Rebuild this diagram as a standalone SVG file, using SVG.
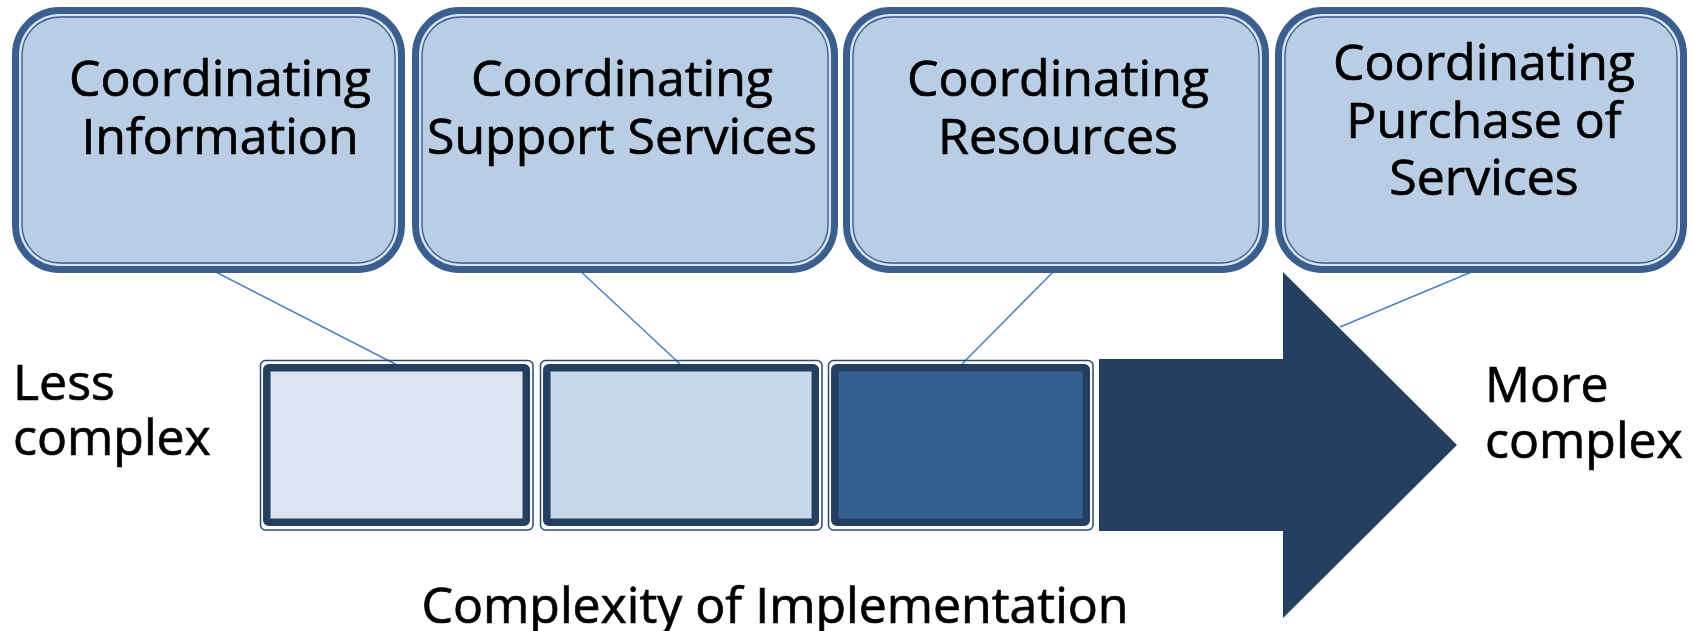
<svg xmlns="http://www.w3.org/2000/svg" width="1694" height="631" viewBox="0 0 1694 631">
<style>
.t{font-family:"Open Sans","Noto Sans","DejaVu Sans",sans-serif;font-size:50px;fill:#000;stroke:#000;stroke-width:0.7}
.c{text-anchor:middle}
.o{fill:#b9cde5;stroke:#3a5f8e;stroke-width:7}
.l{fill:none;stroke:#dfe8f3;stroke-width:1.6}
.d{fill:none;stroke:#3a5f8e;stroke-width:1.3}
.ft{fill:none;stroke:#2b4a70;stroke-width:1.5}
.th{stroke:#243f60;stroke-width:7.5}
.cn{stroke:#4f81bd;stroke-width:1.6;fill:none}
</style>
<rect width="1694" height="631" fill="#fff"/>
<g id="connectors">
<line class="cn" x1="208" y1="268" x2="397" y2="365"/>
<line class="cn" x1="577" y1="268" x2="680" y2="364"/>
<line class="cn" x1="1057" y1="268" x2="962" y2="364"/>
</g>
<g id="arrow">
<polygon points="1099,359 1283,359 1283,272 1457,445 1283,618 1283,531 1099,531" fill="#253f5f"/>
</g>
<g id="connector4">
<line class="cn" x1="1481" y1="268" x2="1340" y2="327"/>
</g>
<g id="level1">
<rect class="ft" x="260.5" y="360.5" width="272.5" height="169.5" rx="5"/>
<rect class="th" x="266.8" y="367.8" width="259.5" height="154.5" rx="2" fill="#dce6f2"/>
</g>
<g id="level2">
<rect class="ft" x="540.5" y="360.5" width="281.5" height="169.5" rx="5"/>
<rect class="th" x="546.8" y="367.8" width="268.5" height="154.5" rx="2" fill="#c8d8eb"/>
</g>
<g id="level3">
<rect class="ft" x="828.5" y="360.5" width="264.5" height="169.5" rx="5"/>
<rect class="th" x="834.8" y="367.8" width="251.5" height="154.5" rx="2" fill="#356090"/>
</g>
<g id="box1">
<rect class="o" x="15.5" y="10.5" width="386" height="259" rx="44"/>
<rect class="l" x="20" y="15" width="377" height="250" rx="40"/>
<rect class="d" x="22" y="17" width="373" height="246" rx="38"/>
<text class="t c" x="220" y="96">Coordinating</text>
<text class="t c" x="220" y="154">Information</text>
</g>
<g id="box2">
<rect class="o" x="415.5" y="10.5" width="419" height="259" rx="44"/>
<rect class="l" x="420" y="15" width="410" height="250" rx="40"/>
<rect class="d" x="422" y="17" width="406" height="246" rx="38"/>
<text class="t c" x="622" y="96">Coordinating</text>
<text class="t c" x="622" y="154">Support Services</text>
</g>
<g id="box3">
<rect class="o" x="846.5" y="10.5" width="419" height="259" rx="44"/>
<rect class="l" x="851" y="15" width="410" height="250" rx="40"/>
<rect class="d" x="853" y="17" width="406" height="246" rx="38"/>
<text class="t c" x="1058" y="96">Coordinating</text>
<text class="t c" x="1058" y="154">Resources</text>
</g>
<g id="box4">
<rect class="o" x="1278.5" y="10.5" width="405" height="259" rx="44"/>
<rect class="l" x="1283" y="15" width="396" height="250" rx="40"/>
<rect class="d" x="1285" y="17" width="392" height="246" rx="38"/>
<text class="t c" x="1484" y="80">Coordinating</text>
<text class="t c" x="1484" y="138">Purchase of</text>
<text class="t c" x="1484" y="195">Services</text>
</g>
<g id="less">
<text class="t" x="13" y="400">Less</text>
<text class="t" x="13" y="455">complex</text>
</g>
<g id="more">
<text class="t" x="1485" y="402">More</text>
<text class="t" x="1485" y="458">complex</text>
</g>
<g id="axis-label">
<text class="t c" x="775" y="623">Complexity of Implementation</text>
</g>
</svg>
